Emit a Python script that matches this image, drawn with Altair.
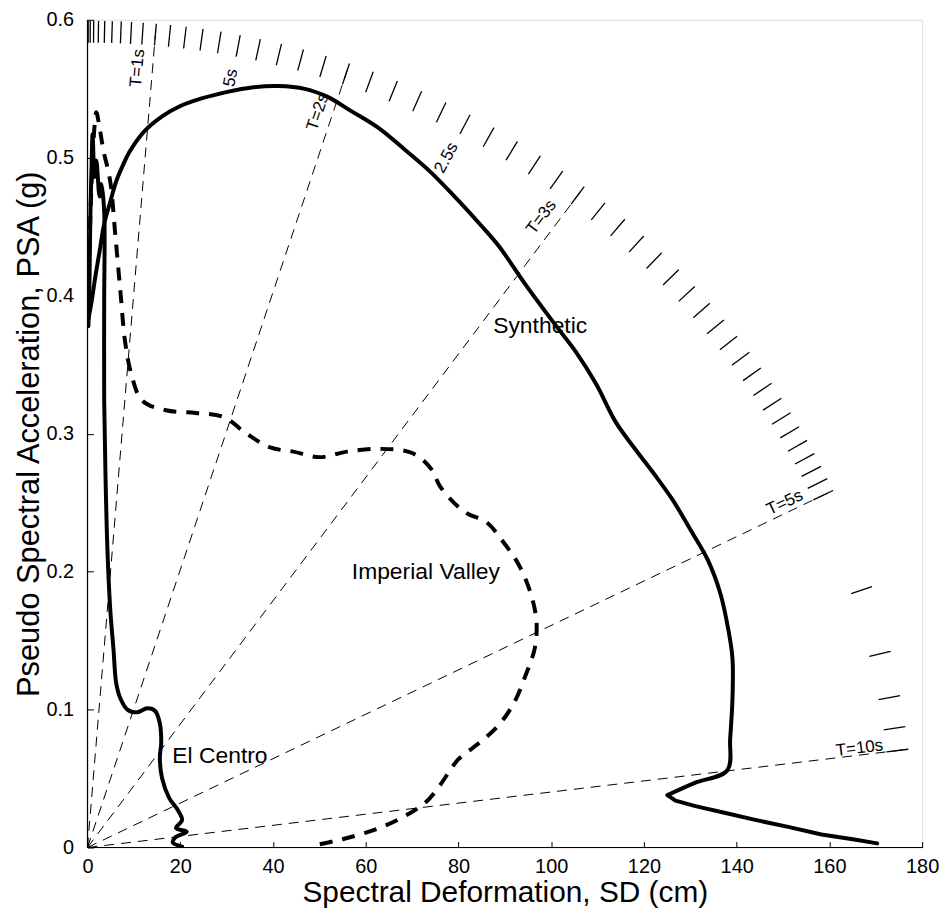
import math
import altair as alt
import pandas as pd

# ---------------- data ----------------
# Synthetic record (solid): upper branch down to the sharp corner
syn_sd = [0.2, 0.9, 1.7, 2.6, 3.6, 4.9, 6.2, 7.7, 9.0, 12.2, 16.1, 19.7, 24.6, 30.4, 35.4,
          41.1, 46.9, 51.9, 56.8, 62.6, 68.4, 73.9, 79.7, 84.6, 88.7, 94.7, 101.1, 105.4,
          109.7, 114.0, 118.3, 122.6, 126.2, 130.1, 133.7, 136.5, 138.2, 139.1, 139.1,
          138.6, 138.0, 131.1, 125.1]
syn_psa = [0.383, 0.396, 0.414, 0.432, 0.452, 0.468, 0.483, 0.495, 0.504, 0.519, 0.530,
           0.537, 0.543, 0.548, 0.551, 0.552, 0.550, 0.544, 0.534, 0.522, 0.506, 0.490,
           0.470, 0.452, 0.436, 0.407, 0.378, 0.359, 0.336, 0.308, 0.288, 0.269, 0.252,
           0.230, 0.209, 0.184, 0.158, 0.137, 0.108, 0.079, 0.056, 0.047, 0.038]
# Synthetic record: lower branch from the corner to the end
syn_low_sd = [125.1, 126.8, 131.1, 137.6, 144.0, 151.1, 158.3, 165.4, 170.3]
syn_low_psa = [0.038, 0.034, 0.030, 0.025, 0.020, 0.015, 0.0094, 0.0058, 0.003]

# El Centro record (solid)
elc_sd = [0.2, 0.4, 0.6, 0.9, 1.1, 1.5, 1.9, 2.6, 3.0, 3.6, 3.6, 3.6, 3.9, 4.3, 4.9, 5.6,
          6.2, 7.1, 8.6, 10.7, 12.9, 14.6, 15.6, 15.9, 15.6, 16.1, 17.6, 19.5, 20.4, 19.1,
          21.4, 18.9, 18.4, 20.4]
elc_psa = [0.378, 0.403, 0.454, 0.497, 0.517, 0.486, 0.498, 0.472, 0.481, 0.461, 0.396,
           0.324, 0.267, 0.216, 0.173, 0.144, 0.119, 0.108, 0.100, 0.098, 0.101, 0.099,
           0.090, 0.076, 0.065, 0.050, 0.036, 0.027, 0.020, 0.014, 0.0115, 0.0072, 0.0036,
           0.0007]

# Imperial Valley record (dashed)
imp_sd = [0.1, 0.4, 0.9, 1.5, 1.9, 2.6, 3.4, 4.9, 6.0, 7.1, 8.1, 9.4, 11.8, 16.9, 23.4,
          29.4, 34.3, 39.4, 44.4, 50.0, 56.0, 63.0, 70.0, 74.0, 76.0, 79.0, 82.0, 86.0,
          90.0, 93.0, 95.5, 96.8, 96.5, 94.5, 92.0, 89.0, 86.0, 83.0, 80.0, 78.0, 76.0,
          73.0, 68.0, 62.0, 55.0, 48.0]
imp_psa = [0.382, 0.432, 0.483, 0.522, 0.533, 0.522, 0.506, 0.483, 0.444, 0.403, 0.367,
           0.344, 0.324, 0.317, 0.315, 0.312, 0.300, 0.290, 0.287, 0.283, 0.287, 0.289,
           0.286, 0.275, 0.262, 0.250, 0.242, 0.236, 0.220, 0.205, 0.185, 0.165, 0.145,
           0.125, 0.105, 0.090, 0.080, 0.072, 0.064, 0.055, 0.045, 0.033, 0.022, 0.013,
           0.006, 0.001]

# constant-period lines and period scale ticks (s)
ray_periods = [1, 2, 3, 5, 10]
tick_periods = [0.1, 0.2, 0.3, 0.4, 0.5, 0.6, 0.7, 0.8, 0.9, 1.0,
                1.1, 1.2, 1.3, 1.4, 1.5, 1.6, 1.7, 1.8, 1.9, 2.0,
                2.1, 2.2, 2.3, 2.4, 2.5, 2.6, 2.7, 2.8, 2.9, 3.0,
                3.1, 3.2, 3.3, 3.4, 3.5, 3.6, 3.7, 3.8, 3.9, 4.0,
                4.1, 4.2, 4.3, 4.4, 4.5, 4.6, 4.7, 4.8, 4.9, 5.0,
                6, 7, 8, 9, 10]

# text annotations
curve_labels = ["Synthetic", "Imperial Valley", "El Centro"]
curve_label_sd = [87.5, 57.0, 18.3]
curve_label_psa = [0.378, 0.200, 0.066]

period_labels = ["T=1s", "5s", "T=2s", "2.5s", "T=3s", "T=5s", "T=10s"]
period_label_sd = [10.8, 30.9, 49.7, 77.4, 97.9, 150.4, 166.5]
period_label_psa = [0.565, 0.558, 0.533, 0.500, 0.457, 0.250, 0.072]
period_label_angle = [275, 281, 288.5, 298, 307, 334.5, 353]

x_ticks = [0, 20, 40, 60, 80, 100, 120, 140, 160, 180]
y_ticks = [0, 0.1, 0.2, 0.3, 0.4, 0.5, 0.6]

# ---------------- geometry helpers ----------------
W, H = 840, 833
XMAX, YMAX = 180, 0.6
PXX, PXY = W / XMAX, H / YMAX
G = 981.0  # cm/s^2


def ray_point(T, r):
    """point at pixel distance r from origin along constant-period line T"""
    k = (2 * math.pi / T) ** 2 / G
    s = k * PXY / PXX
    ux = 1 / math.sqrt(1 + s * s)
    uy = s * ux
    return r * ux / PXX, r * uy / PXY


R_IN, R_OUT = 810, 832

rays = []
for T in ray_periods:
    x2, y2 = ray_point(T, R_OUT)
    rays.append({"x": 0, "y": 0, "x2": x2, "y2": y2})
ticks = []
for T in tick_periods:
    x1, y1 = ray_point(T, R_IN)
    x2, y2 = ray_point(T, R_OUT)
    ticks.append({"x": x1, "y": y1, "x2": x2, "y2": y2})

df_rays = pd.DataFrame(rays)
df_ticks = pd.DataFrame(ticks)


def curve_df(sd, psa, name):
    return pd.DataFrame({"sd": sd, "psa": psa, "i": range(len(sd)), "name": name})


df_syn = curve_df(syn_sd, syn_psa, "Synthetic")
df_syn_low = curve_df(syn_low_sd, syn_low_psa, "Synthetic")
df_elc = curve_df(elc_sd, elc_psa, "El Centro")
df_imp = curve_df(imp_sd, imp_psa, "Imperial Valley")

df_clab = pd.DataFrame({"t": curve_labels, "sd": curve_label_sd, "psa": curve_label_psa})
df_plab = pd.DataFrame({"t": period_labels, "sd": period_label_sd,
                        "psa": period_label_psa, "a": period_label_angle})

FONT = "Liberation Sans, Arial, sans-serif"

xscale = alt.Scale(domain=[0, XMAX], nice=False, zero=False)
yscale = alt.Scale(domain=[0, YMAX], nice=False, zero=False)

xaxis = alt.Axis(values=x_ticks, title="Spectral Deformation, SD (cm)", grid=False,
                 domain=False, offset=-6, tickSize=6, tickColor="black", tickWidth=1,
                 labelFont=FONT, labelFontSize=20, labelColor="black", labelPadding=9,
                 titleFont=FONT, titleFontSize=30, titleFontWeight="normal",
                 titleColor="black", titlePadding=1, labelFlush=False)
yaxis = alt.Axis(values=y_ticks, title="Pseudo Spectral Acceleration, PSA (g)", grid=False,
                 domain=False, offset=-6, tickSize=6, tickColor="black", tickWidth=1,
                 labelFont=FONT, labelFontSize=20, labelColor="black", labelPadding=14,
                 labelExpr="datum.value == 0 ? '0' : format(datum.value, '.1f')",
                 titleFont=FONT, titleFontSize=31, titleFontWeight="normal",
                 titleColor="black", titlePadding=0, labelFlush=False)

rays_layer = alt.Chart(df_rays).mark_rule(
    color="black", strokeWidth=1, strokeDash=[10, 7]
).encode(x=alt.X("x:Q", scale=xscale, axis=xaxis), y=alt.Y("y:Q", scale=yscale, axis=yaxis),
         x2="x2:Q", y2="y2:Q")

ticks_layer = alt.Chart(df_ticks).mark_rule(
    color="black", strokeWidth=1.3
).encode(x=alt.X("x:Q", scale=xscale, axis=xaxis), y=alt.Y("y:Q", scale=yscale, axis=yaxis),
         x2="x2:Q", y2="y2:Q")


def line_layer(df, dash=None, interp="catmull-rom"):
    kw = dict(color="black", strokeWidth=4, strokeJoin="round", clip=True,
              interpolate=interp)
    if dash:
        kw["strokeDash"] = dash
        kw["strokeCap"] = "butt"
    else:
        kw["strokeCap"] = "round"
    return alt.Chart(df).mark_line(**kw).encode(
        x=alt.X("sd:Q", scale=xscale, axis=xaxis),
        y=alt.Y("psa:Q", scale=yscale, axis=yaxis),
        order="i:Q",
    )


syn_layer = line_layer(df_syn)
syn_low_layer = line_layer(df_syn_low, interp="linear")
elc_layer = line_layer(df_elc)
imp_layer = line_layer(df_imp, dash=[13, 10])

clab_layer = alt.Chart(df_clab).mark_text(
    font=FONT, fontSize=23, color="black", align="left", baseline="middle"
).encode(x=alt.X("sd:Q", scale=xscale, axis=xaxis), y=alt.Y("psa:Q", scale=yscale, axis=yaxis),
         text="t:N")

plab_layer = alt.Chart(df_plab).mark_text(
    font=FONT, fontSize=17, color="black", align="center", baseline="middle"
).encode(x=alt.X("sd:Q", scale=xscale, axis=xaxis), y=alt.Y("psa:Q", scale=yscale, axis=yaxis),
         text="t:N", angle=alt.Angle("a:Q", scale=None))

# axis lines (left and bottom only)
xline = alt.Chart(pd.DataFrame({"v": [0]})).mark_rule(color="black", strokeWidth=1.2).encode(
    y=alt.Y("v:Q", scale=yscale, axis=yaxis))
yline = alt.Chart(pd.DataFrame({"v": [0]})).mark_rule(color="black", strokeWidth=1.2).encode(
    x=alt.X("v:Q", scale=xscale, axis=xaxis))

chart = alt.layer(
    rays_layer, ticks_layer, imp_layer, elc_layer, syn_layer, syn_low_layer,
    clab_layer, plab_layer, xline, yline
).properties(
    width=W, height=H,
    autosize=alt.AutoSizeParams(type="none"),
    padding={"left": 80, "top": 9, "right": 20, "bottom": 66},
).configure_view(stroke=None).configure(background="white")

chart.save("out.html", embed_options={"renderer": "svg", "actions": False})
